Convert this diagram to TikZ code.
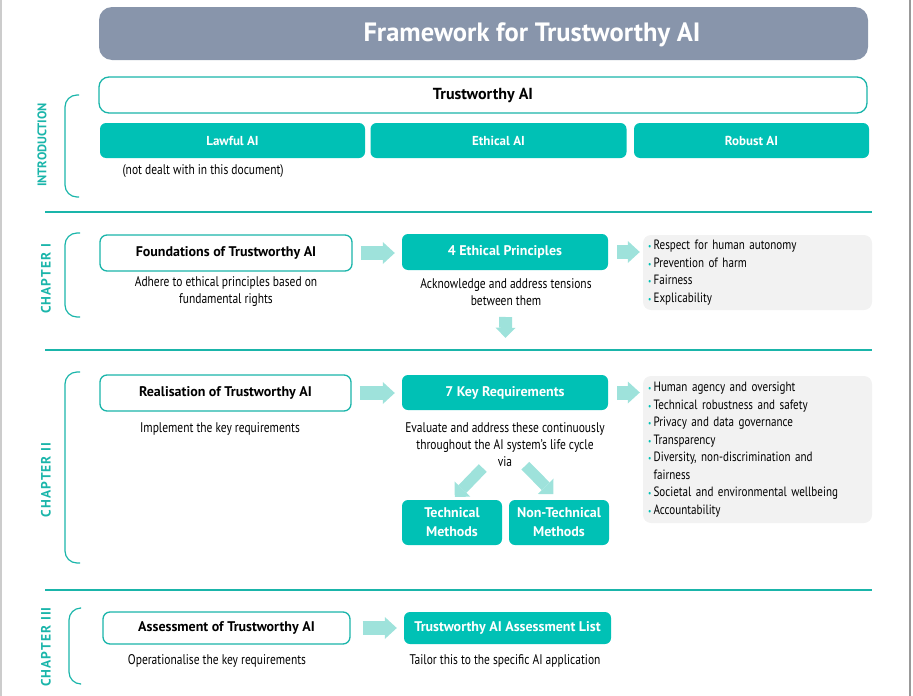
\documentclass[tikz,border=0pt]{standalone}
\usepackage{fontspec}
\setmainfont{PT Sans}[UprightFeatures={FakeStretch=0.82}]
\newfontfamily\chapfont{PT Sans}[LetterSpace=8]
\usetikzlibrary{arrows.meta}
\definecolor{aiteal}{RGB}{0,193,181}
\definecolor{ailine}{RGB}{26,181,170}
\definecolor{aipale}{RGB}{158,226,219}
\definecolor{aislate}{RGB}{136,149,171}
\definecolor{aigrey}{RGB}{242,242,242}
\newcommand{\aibul}{{\color{aiteal}\small\textbullet}\,}
\newcommand{\aigap}{\hphantom{\aibul}}

\begin{document}
\begin{tikzpicture}[x=1pt,y=-1pt,
    hollow/.style={draw=ailine,line width=1.3pt,fill=white,rounded corners=7pt,inner sep=0pt,font=\fontsize{14}{17}\selectfont\bfseries},
    filledbox/.style={fill=aiteal,text=white,rounded corners=6pt,inner sep=0pt,font=\fontsize{14}{19}\selectfont\bfseries,align=center},
    note/.style={align=center,font=\fontsize{14}{17}\selectfont},
    listbox/.style={fill=aigrey,rounded corners=8pt,align=left,inner xsep=5pt,inner ysep=0pt,font=\fontsize{13.5}{17.5}\selectfont},
    fatarrow/.style={draw=aipale,line width=14pt,-{Triangle[length=12pt,width=22pt,line width=0pt]}},
    slimarrow/.style={draw=aipale,line width=11pt,-{Triangle[length=11pt,width=22pt,line width=0pt]}},
    chap/.style={rotate=90,text=ailine,font=\fontsize{12.5}{14}\selectfont\bfseries},
    chapsp/.style={chap,font=\chapfont\fontsize{13.5}{15}\selectfont\bfseries},
    bracket/.style={draw=ailine,line width=1.2pt,rounded corners=12pt},
    rule/.style={draw=ailine,line width=2pt}]
  \useasboundingbox (0,0) rectangle (913,696);
  \draw[line width=1.5pt,black!20] (0.75,0) -- (0.75,696);
  \draw[line width=2.5pt,black!40] (910,0) -- (910,696);

  \node[fill=aislate,rounded corners=13pt,minimum width=769pt,minimum height=53pt] (titlebar) at (483.5,33.5) {};
  \node[text=white,font=\fontsize{26.5}{30}\selectfont\bfseries] (title) at (532,35) {Framework for Trustworthy AI};

  \node[hollow,minimum width=768pt,minimum height=36pt,rounded corners=10pt,font=\fontsize{16}{19}\selectfont\bfseries] (tai) at (483,95) {Trustworthy AI};
  \node[filledbox,minimum width=265pt,minimum height=35pt,font=\fontsize{13}{16}\selectfont\bfseries] (lawful) at (232.5,140.5) {Lawful AI};
  \node[filledbox,minimum width=256pt,minimum height=35pt,font=\fontsize{13}{16}\selectfont\bfseries] (ethical) at (498.5,140.5) {Ethical AI};
  \node[filledbox,minimum width=235pt,minimum height=35pt,font=\fontsize{13}{16}\selectfont\bfseries] (robust) at (751.5,140.5) {Robust AI};
  \node[note,anchor=west] (lawnote) at (119,171) {(not dealt with in this document)};
  \draw[bracket] (79,95) -- (65,95) -- (65,197) -- (79,197);
  \node[chap] (intro) at (42,145) {INTRODUCTION};
  \draw[rule] (45,212) -- (872,212);

  \node[hollow,minimum width=252pt,minimum height=36pt] (found) at (226,253) {Foundations of Trustworthy AI};
  \node[note] (foundnote) at (226,292) {Adhere to ethical principles based on\\fundamental rights};
  \node[filledbox,minimum width=206pt,minimum height=36pt] (ethic) at (505,252) {4 Ethical Principles};
  \node[note] (ethicnote) at (506,292) {Acknowledge and address tensions\\between them};
  \node[listbox,minimum width=229pt,minimum height=75pt,text width=219pt] (principles) at (757.5,272.5) {\aibul Respect for human autonomy\\\aibul Prevention of harm\\\aibul Fairness\\\aibul Explicability};
  \draw[fatarrow,shorten <=8pt,shorten >=7pt] (found.east) -- (found.east -| ethic.west);
  \draw[fatarrow,shorten <=9pt,shorten >=3pt] (ethic.east) -- (ethic.east -| principles.west);
  \draw[bracket] (80,233) -- (65,233) -- (65,317) -- (80,317);
  \node[chapsp] (chone) at (46,279) {CHAPTER I};
  \draw[rule] (45,350) -- (872,350);

  \node[hollow,minimum width=251pt,minimum height=36pt] (real) at (225.5,393) {Realisation of Trustworthy AI};
  \node[note] (realnote) at (220,429) {Implement the key requirements};
  \node[filledbox,minimum width=206pt,minimum height=35pt] (req) at (505,392.5) {7 Key Requirements};
  \node[note] (reqnote) at (505,445) {Evaluate and address these continuously\\throughout the AI system's life cycle\\via};
  \node[filledbox,minimum width=100pt,minimum height=45pt] (tech) at (452,522.5) {Technical\\Methods};
  \node[filledbox,minimum width=100pt,minimum height=45pt] (nontech) at (559,522.5) {Non-Technical\\Methods};
  \node[listbox,minimum width=229pt,minimum height=147pt,text width=219pt] (reqlist) at (757.5,449.5) {\aibul Human agency and oversight\\\aibul Technical robustness and safety\\\aibul Privacy and data governance\\\aibul Transparency\\\aibul Diversity, non-discrimination and\\\aigap fairness\\\aibul Societal and environmental wellbeing\\\aibul Accountability};
  \draw[fatarrow,line width=13pt,-{Triangle[length=10pt,width=20pt,line width=0pt]},shorten <=25pt,shorten >=37pt] (ethicnote.center) -- (req.north);
  \draw[fatarrow,shorten <=8pt,shorten >=7pt] (real.east) -- (real.east -| req.west);
  \draw[fatarrow,shorten <=9pt,shorten >=3pt] (req.east) -- (req.east -| reqlist.west);
  \draw[slimarrow,shorten <=32pt,shorten >=4pt] (reqnote.center) -- (tech.north);
  \draw[slimarrow,shorten <=29pt,shorten >=8pt] (reqnote.center) -- (nontech.north);
  \draw[bracket] (80,372) -- (65,372) -- (65,563) -- (80,563);
  \node[chapsp] (chtwo) at (46,480) {CHAPTER II};
  \draw[rule] (45,590) -- (872,590);

  \node[hollow,minimum width=247pt,minimum height=32pt] (assess) at (226.5,628) {Assessment of Trustworthy AI};
  \node[note] (assessnote) at (217,661) {Operationalise the key requirements};
  \node[filledbox,minimum width=207pt,minimum height=32pt] (checklist) at (507.5,628) {Trustworthy AI Assessment List};
  \node[note] (checknote) at (505,661) {Tailor this to the specific AI application};
  \draw[fatarrow,shorten <=12pt,shorten >=7pt] (assess.east) -- (assess.east -| checklist.west);
  \draw[bracket] (80,608) -- (69,608) -- (69,684) -- (80,684);
  \node[chapsp] (chthree) at (46,647) {CHAPTER III};
\end{tikzpicture}
\end{document}
